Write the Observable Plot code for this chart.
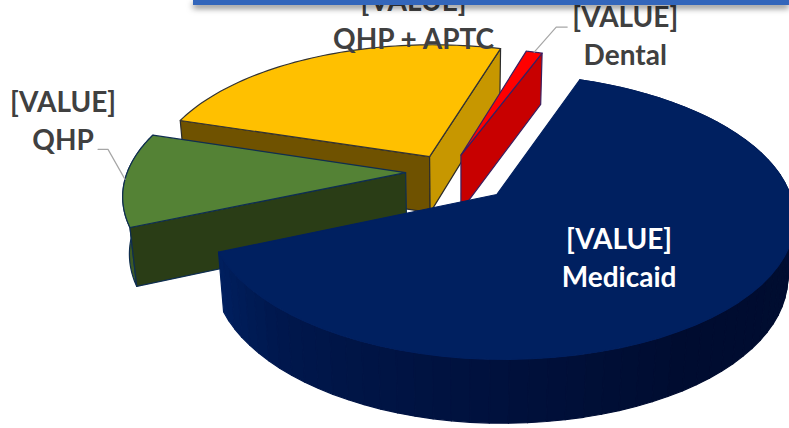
<!DOCTYPE html>
<html><head><meta charset="utf-8">
<script src="https://cdn.jsdelivr.net/npm/d3@7"></script>
<script src="https://cdn.jsdelivr.net/npm/@observablehq/plot@0.6"></script>
<style>
html,body{margin:0;padding:0;background:#fff;overflow:hidden}
#wrap{position:relative;width:789px;height:428px}
#banner{position:absolute;left:193px;top:0;right:0;height:5px;background:#3366bb;box-shadow:0 3px 6px rgba(0,0,0,.55)}
</style></head><body>
<div id="wrap"><div id="chart"></div><div id="banner"></div></div>
<script>
// Data
const categories = ["Medicaid", "QHP", "QHP + APTC", "Dental"];
const shares = [63.1, 11.1, 24.7, 1.1];
const valueLabel = "[VALUE]";

// Styling and 3D view
const W = 789, H = 428;
const topColors = ["#002060", "#548235", "#ffc000", "#ff0000"];
const edgeColors = ["#002060", "#0f2e50", "#333333", "#3a2060"];
const view = {cx: 458, cy: 177, rxRight: 288, rxLeft: 280, ry: 134.5, k: 0.15, depth: 58, kz: 0.02, explode: 0.18, start: 20};
const explodeNudge = [[0,0],[-0.01,0.045],[-0.02,0],[-0.047,0]];
const radii = [1, 1, 1, 0.96];

const project = (X, Y, z = 0) => {
  const d = 1 + view.k * Y + view.kz * z;
  return [view.cx + (X < 0 ? view.rxLeft : view.rxRight) * X / d, view.cy + (-view.ry * Y + view.depth * z) / d];
};
const arcs = d3.pie().sort(null).startAngle(view.start * Math.PI / 180)
  .endAngle((view.start + 360) * Math.PI / 180)(shares);
const sl = arcs.map((a, i) => {
  const mid = (a.startAngle + a.endAngle) / 2;
  return {
    a0: a.startAngle, a1: a.endAngle, mid, r: radii[i],
    ox: view.explode * Math.sin(mid) + explodeNudge[i][0],
    oy: view.explode * Math.cos(mid) + explodeNudge[i][1]
  };
});
const pt = (s, ang, r, z = 0) => project(s.ox + r * s.r * Math.sin(ang), s.oy + r * s.r * Math.cos(ang), z);
const arcAngles = (a0, a1) => d3.range(0, 61).map(t => a0 + (a1 - a0) * t / 60);
const topFace = s => [pt(s, 0, 0), ...arcAngles(s.a0, s.a1).map(a => pt(s, a, 1))];
const radial = (s, a) => [pt(s, a, 0), pt(s, a, 1), pt(s, a, 1, 1), pt(s, a, 0, 1)];
const sideFace = (s, a0, a1) => [...arcAngles(a0, a1).map(a => pt(s, a, 1)), ...arcAngles(a1, a0).map(a => pt(s, a, 1, 1))];

const [mSl, gSl, ySl, dSl] = sl;
const faces = [];
const add = (pts, fill, stroke) => faces.push({pts, fill, stroke});
// Yellow
add(radial(ySl, ySl.a0), "#6f5200", "#2b2b2b");
add(radial(ySl, ySl.a1), "#c79700", "#2b2b2b");
add(topFace(ySl), topColors[2], edgeColors[2]);
// Dental
add(radial(dSl, dSl.a1), "#c80000", edgeColors[3]);
add(topFace(dSl), topColors[3], edgeColors[3]);
// Green
add(sideFace(gSl, gSl.a0, gSl.a1), "#3d5a26", edgeColors[1]);
add(radial(gSl, gSl.a0), "#2a3d16", edgeColors[1]);
add(topFace(gSl), topColors[1], edgeColors[1]);
// Medicaid side: shaded in small strips
const shade = d3.scaleLinear()
  .domain([mSl.a1, 3.9, 2.6, 1.8, 1.2])
  .range(["#001f5e", "#00174c", "#000c30", "#000d30", "#00133f"]);
const N = 70;
d3.range(N).forEach(i => {
  const a0 = mSl.a1 + (mSl.a0 - mSl.a1) * i / N, a1 = mSl.a1 + (mSl.a0 - mSl.a1) * (i + 1) / N;
  const q = [pt(mSl, a0, 1), pt(mSl, a1, 1), pt(mSl, a1, 1, 1), pt(mSl, a0, 1, 1)];
  const c = shade(a0);
  add(q, c, c);
});
add(topFace(mSl), topColors[0], "#002060");

const rows = faces.flatMap((f, id) => [...f.pts, f.pts[0]].map(([x, y]) => ({x, y, id, fill: f.fill, stroke: f.stroke})));

// Leaders and labels follow the slices
const rimQ = pt(gSl, gSl.mid, 1), rimD = pt(dSl, dSl.mid, 1);
const leaders = [
  [rimQ, [rimQ[0] - 17, rimQ[1] - 30], [rimQ[0] - 27, rimQ[1] - 30]],
  [rimD, [rimD[0] + 22, rimD[1] - 25], [rimD[0] + 33, rimD[1] - 25]]
].flatMap((p, id) => p.map(([x, y]) => ({x, y, id})));

const anchors = [pt(mSl, mSl.mid, 0.45), rimQ, pt(ySl, ySl.mid, 1), rimD];
const nudges = [[20, 16], [-62, -61], [0, 0], [91, -18]];
const labels = categories.map((c, i) => ({
  text: `${valueLabel}\n${c}`,
  x: anchors[i][0] + nudges[i][0], y: anchors[i][1] + nudges[i][1],
  color: i === 0 ? "#ffffff" : "#404040"
}));
labels[2].x = project(ySl.ox, ySl.oy)[0] - 16; // over the yellow slice's apex
labels[2].y = pt(ySl, ySl.a1, 1)[1] - 31;

const chart = Plot.plot({
  width: W, height: H, margin: 0,
  x: {domain: [0, W], range: [0, W], axis: null},
  y: {domain: [0, H], range: [0, H], axis: null},
  color: {type: "identity"},
  style: {background: "#fff"},
  marks: [
    Plot.line(rows, {x: "x", y: "y", z: "id", fill: "fill", stroke: "stroke", strokeWidth: 1.2, curve: "linear", strokeLinejoin: "round"}),
    Plot.line(leaders, {x: "x", y: "y", z: "id", stroke: "#a6a6a6", strokeWidth: 1.2}),
    Plot.text(labels, {x: "x", y: "y", text: "text", fill: "color", fontSize: 28, fontWeight: 700, fontFamily: "Lato", lineHeight: 1.36, textAnchor: "middle"})
  ]
});
document.getElementById("chart").append(chart);
</script>
</body></html>
